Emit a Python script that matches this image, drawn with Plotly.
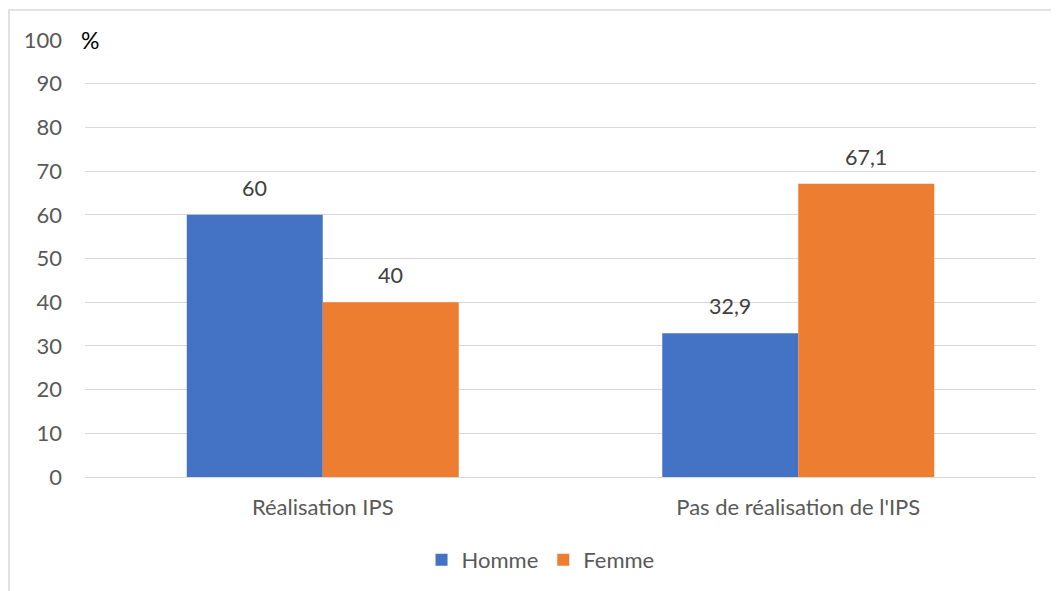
import plotly.graph_objects as go

categories = ["Réalisation IPS", "Pas de réalisation de l'IPS"]
homme = [60, 32.9]
femme = [40, 67.1]
homme_labels = ["60", "32,9"]
femme_labels = ["40", "67,1"]
y_ticks = list(range(0, 101, 10))

OFF = 8  # page body margin
W, H = 1059 - OFF, 591 - OFF
L, R, T, B = 85 - OFF, 23, 40 - OFF, 114
pw = W - L - R
ph = H - T - B

def px_x(p):
    return (p - OFF - L) / pw

def px_y(p):
    return (H - B - (p - OFF)) / ph

FONT = "Lato, Open Sans, sans-serif"

fig = go.Figure()
fig.add_trace(go.Bar(name="Homme", x=categories, y=homme, marker_color="#4472C4",
                     marker_line_width=0))
fig.add_trace(go.Bar(name="Femme", x=categories, y=femme, marker_color="#ED7D31",
                     marker_line_width=0))

fig.update_layout(
    width=W, height=H,
    margin=dict(l=L, r=R, t=T, b=B, autoexpand=False),
    paper_bgcolor="white", plot_bgcolor="white",
    barmode="group", bargap=0.428, bargroupgap=0,
    font=dict(family=FONT, color="#595959", size=22),
    showlegend=True,
    legend=dict(orientation="h", x=0.479, xanchor="center", y=px_y(560), yanchor="middle",
                font=dict(size=22, color="#595959"), itemwidth=30, traceorder="normal"),
    xaxis=dict(showgrid=False, showline=True, linecolor="#D9D9D9", linewidth=1,
               tickfont=dict(size=22, color="#595959"), ticks="", ticklabelstandoff=11),
    yaxis=dict(range=[0, 100], tickvals=y_ticks, showgrid=True, gridcolor="#D9D9D9",
               gridwidth=1, zeroline=False, ticks="", ticklabelstandoff=22,
               tickfont=dict(size=22, color="#595959")),
)

# data labels
for i, c in enumerate(categories):
    fig.add_annotation(x=c, y=homme[i], text=homme_labels[i], xref="x", yref="y",
                       xshift=-68, yshift=27, showarrow=False, yanchor="middle",
                       font=dict(size=21.5, color="#404040", family=FONT))
    fig.add_annotation(x=c, y=femme[i], text=femme_labels[i], xref="x", yref="y",
                       xshift=68, yshift=27, showarrow=False, yanchor="middle",
                       font=dict(size=21.5, color="#404040", family=FONT))

fig.add_annotation(text="%", xref="paper", yref="y", x=px_x(79), y=100, xanchor="left",
                   yanchor="middle", showarrow=False, font=dict(size=23, color="#000000", family=FONT))

fig.add_shape(type="rect", xref="paper", yref="paper",
              x0=px_x(9), x1=px_x(1058), y0=px_y(620), y1=px_y(10),
              line=dict(color="#D9D9D9", width=1.5), fillcolor="rgba(0,0,0,0)", layer="below")

fig.write_html("out.html")
